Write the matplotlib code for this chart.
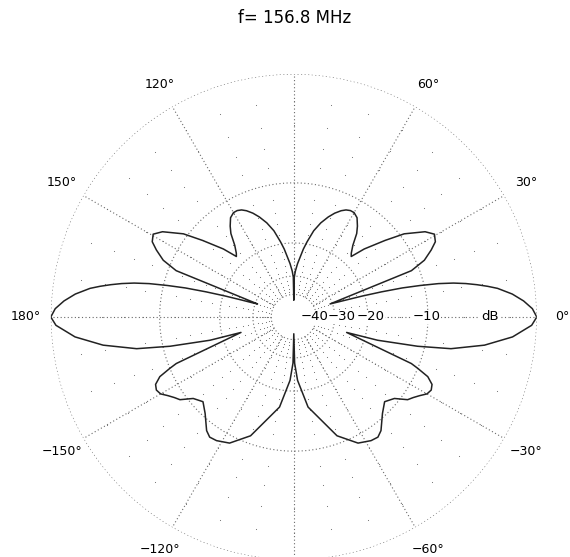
import numpy as np
import matplotlib
matplotlib.use('Agg')
import matplotlib.pyplot as plt

# radiation pattern (deg, dB)
# upper half 0..90 deg (mirrored onto 90..180)
ang_up = [0, 2, 4, 6, 8, 9, 10, 11, 12, 13, 14, 15, 16, 17, 18, 19, 19.8,
          21.5, 23.5, 26, 28, 30.5, 33, 37, 40, 44, 46.5, 48, 50.5, 53, 55,
          57.5, 60, 62, 64, 66, 68.5, 71, 74, 77, 80, 82, 84, 86, 88, 89.3, 90]
db_up = [0, -0.3, -0.9, -1.7, -2.8, -3.6, -4.5, -5.5, -6.7, -8.3, -10.5, -13.0,
         -16.5, -20.5, -25, -29, -31,
         -11, -9, -7.8, -7.0, -6.7, -7.4, -9.5, -12, -15.3, -18, -17.5, -16.2,
         -14.2, -13.2, -12.2, -11.8, -11.8, -12.0, -12.4, -13.1, -14.0, -15.3,
         -17.0, -19.5, -21.3, -23.5, -25.5, -28, -30.4, -45]
# lower half 0..-90 deg (mirrored onto -90..-180)
ang_lo = [0, -2, -5.2, -8.4, -11.4, -13.3, -15.5, -16.3,
          -21.6, -22.5, -24, -26, -28, -30, -32, -34, -36, -39, -43,
          -47.4, -52.5, -55, -58, -63, -70, -75, -81, -86.6, -89, -90]
db_lo = [0, -0.35, -1.7, -3.9, -7.0, -10.9, -17.3, -25,
         -11, -10, -8.5, -7.7, -7.5, -7.7, -8.3, -8.8, -9.2, -10.6, -11.3,
         -10.4, -8.9, -8.5, -8.6, -9.1, -11, -13.8, -16.5, -22.6, -28, -45]

ring_db = [0, -10, -20, -30, -40]
spoke_deg = [0, 30, 60, 90, 120, 150, 180, 210, 240, 270, 300, 330]
angle_labels = ['0°', '30°', '60°', '', '120°', '150°', '180°',
                '\u2212150°', '\u2212120°', '', '\u221260°', '\u221230°']
db_labels = ['\u221240', '\u221230', '\u221220', '\u221210', 'dB']
db_label_r = [0.086, 0.198, 0.317, 0.547, 0.807]

K = 0.0258      # log radial scale, r = 10**(K*dB)
DB_MIN = -45


def rad(db):
    return 10 ** (K * np.maximum(np.asarray(db, dtype=float), DB_MIN))


au = np.array(ang_up)
du = np.array(db_up)
al = np.array(ang_lo)
dl = np.array(db_lo)
theta = np.concatenate([au, 180 - au[::-1], 180 - al, 360 + al[::-1]])
db = np.concatenate([du, du[::-1], dl, dl[::-1]])

fig = plt.figure(figsize=(5.7, 5.57), dpi=100)
ax = fig.add_axes([50.8 / 570, -3 / 557, 486 / 570, 486 / 557], projection='polar')
ax.set_ylim(0, 1)
ax.grid(False)
ax.set_xticks([])
ax.set_yticks([])
ax.spines['polar'].set_visible(False)

grid_col = '#6a6a6a'
tt = np.linspace(0, 2 * np.pi, 721)
for d in ring_db:
    ax.plot(tt, np.full_like(tt, rad(d)), color=grid_col, lw=0.8,
            linestyle=(0, (1, 2.2)))
for s in spoke_deg:
    ax.plot([np.radians(s)] * 2, [rad(-40), 1], color=grid_col, lw=0.8,
            linestyle=(0, (1, 2.2)))

# minor grid: dots every 10 deg and 2 dB
mt, mr = [], []
for d in range(-2, -40, -2):
    if d % 10 == 0:
        continue
    for a in range(0, 360, 10):
        mt.append(np.radians(a))
        mr.append(rad(d))
ax.scatter(mt, mr, s=0.6, color=grid_col, linewidths=0)

ax.plot(np.radians(theta), rad(db), color='#222222', lw=1.1)

for s, lab in zip(spoke_deg, angle_labels):
    if lab:
        ax.text(np.radians(s), 1.103, lab, ha='center', va='center',
                fontsize=9, family='DejaVu Sans')

for lab, r in zip(db_labels, db_label_r):
    ax.text(0, r, lab, ha='center', va='center', fontsize=9.5,
            family='DejaVu Sans',
            bbox=dict(facecolor='white', edgecolor='none', pad=0.5))

fig.text(295 / 570, 1 - 18 / 557, 'f= 156.8 MHz', ha='center', va='center',
         fontsize=12, family='DejaVu Sans')

fig.savefig('out.png', dpi=100)
